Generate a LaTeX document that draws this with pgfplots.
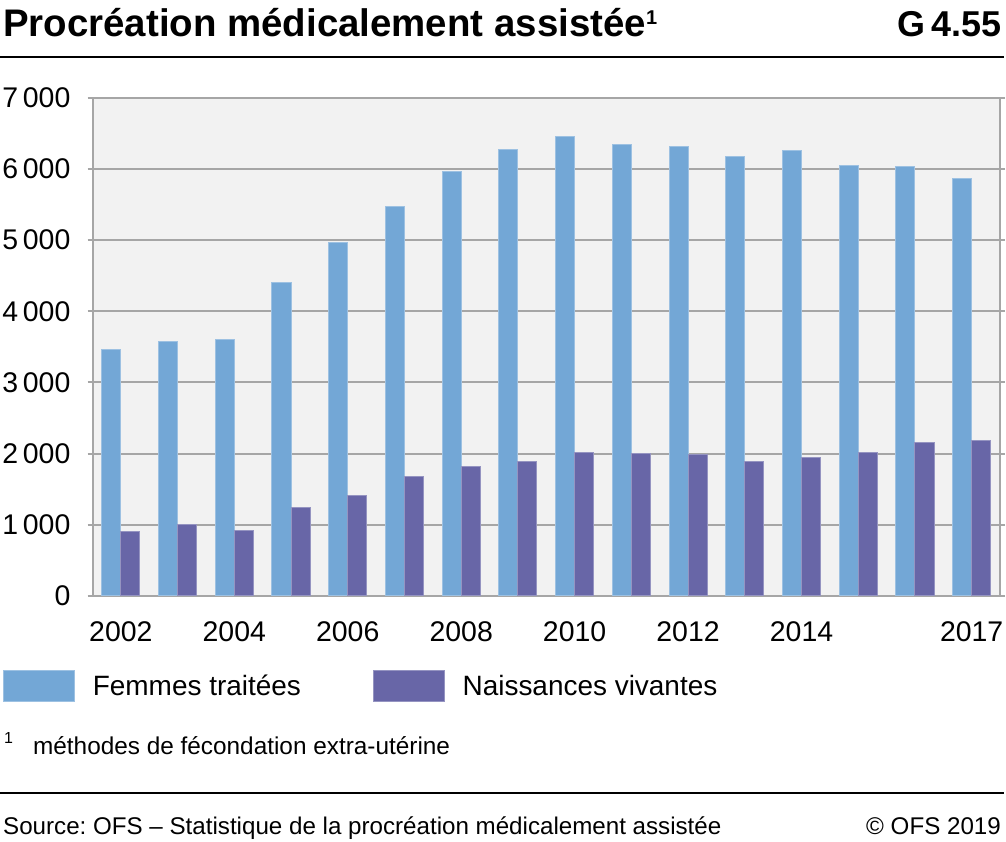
\documentclass[border=0pt]{standalone}
\usepackage{fontspec}
\setmainfont{Liberation Sans}
\usepackage{pgfplots}
\usepackage{pgfplotstable}
\pgfplotsset{compat=1.18}
\frenchspacing

\definecolor{femmes}{HTML}{73A7D6}
\definecolor{naiss}{HTML}{6866A7}
\definecolor{gridgray}{HTML}{A6A6A6}
\definecolor{bggray}{HTML}{F2F2F2}

% annee, femmes traitees, naissances vivantes
\pgfplotstableread{
year femmes naiss
2002 3460 902
2003 3575 1000
2004 3605 912
2005 4400 1238
2006 4968 1407
2007 5475 1683
2008 5958 1823
2009 6276 1884
2010 6460 2010
2011 6345 2005
2012 6318 1986
2013 6175 1884
2014 6263 1950
2015 6046 2010
2016 6038 2150
2017 5860 2178
}\pmadata

\begin{document}
\begin{tikzpicture}
\begin{scope}[x=1bp,y=-1bp]
\path[use as bounding box] (0,0) rectangle (1006,843);
\node[anchor=base west,inner sep=0pt,font=\fontsize{38.5bp}{42bp}\selectfont\bfseries] at (3,37)
  {Procréation médicalement assistée\raisebox{12bp}{\fontsize{20bp}{20bp}\selectfont 1}};
\node[anchor=base east,inner sep=0pt,font=\fontsize{36bp}{40bp}\selectfont\bfseries] at (1004,37) {G\,4.55};
\draw[line width=2.5bp] (0,57) -- (1006,57);
\node[anchor=base west,inner sep=0pt,font=\fontsize{16bp}{18bp}\selectfont] at (4,745) {1};
\node[anchor=base west,inner sep=0pt,font=\fontsize{24.4bp}{28bp}\selectfont] at (33,756) {méthodes de fécondation extra-utérine};
\draw[line width=2bp] (0,795) -- (1006,795);
\node[anchor=base west,inner sep=0pt,font=\fontsize{24.2bp}{28bp}\selectfont] at (3,836)
  {Source: OFS -- Statistique de la procréation médicalement assistée};
\node[anchor=base east,inner sep=0pt,font=\fontsize{24.2bp}{28bp}\selectfont] at (1003,836) {© OFS 2019};
\end{scope}

\begin{axis}[
    at={(92.7bp,-597bp)}, anchor=south west,
    scale only axis, width=909.3bp, height=499bp,
    ybar, bar width=0.336,
    xmin=2001.5, xmax=2017.5,
    ymin=0, ymax=7000,
    xtick={2002,2004,2006,2008,2010,2012,2014,2017},
    ytick={0,1000,...,7000},
    major x tick style={draw=none},
    ytick style={draw=gridgray, line width=2bp},
    major tick length=5bp, tick align=outside,
    ymajorgrids, grid style={gridgray, line width=2bp},
    axis line style={gridgray, line width=2bp},
    axis background/.style={fill=bggray},
    /pgf/number format/assume math mode=true,
    x tick label style={/pgf/number format/1000 sep={}, font=\fontsize{28.5bp}{30bp}\selectfont, inner sep=0pt, yshift=-21bp},
    y tick label style={/pgf/number format/1000 sep={\,}, font=\fontsize{28.5bp}{30bp}\selectfont, inner sep=0pt, xshift=-17bp},
    legend columns=2,
    legend style={at={(axis description cs:-0.0986,-0.1483)}, anchor=north west,
      draw=none, fill=none, inner sep=0pt, outer sep=0pt,
      font=\fontsize{28bp}{30bp}\selectfont,
      nodes={inner sep=0pt},
      /tikz/every odd column/.append style={column sep=18bp},
      /tikz/every even column/.append style={column sep=72bp}},
    legend image code/.code={\draw[#1] (0bp,-15.5bp) rectangle (71bp,15.5bp);},
]
\addplot[fill=femmes, draw=femmes!70!white, line width=1bp, bar shift=-0.168] table[x=year,y=femmes] {\pmadata};
\addplot[fill=naiss, draw=naiss!70!white, line width=1bp, bar shift=0.168] table[x=year,y=naiss] {\pmadata};
\legend{Femmes traitées, Naissances vivantes}
\end{axis}
\end{tikzpicture}
\end{document}
